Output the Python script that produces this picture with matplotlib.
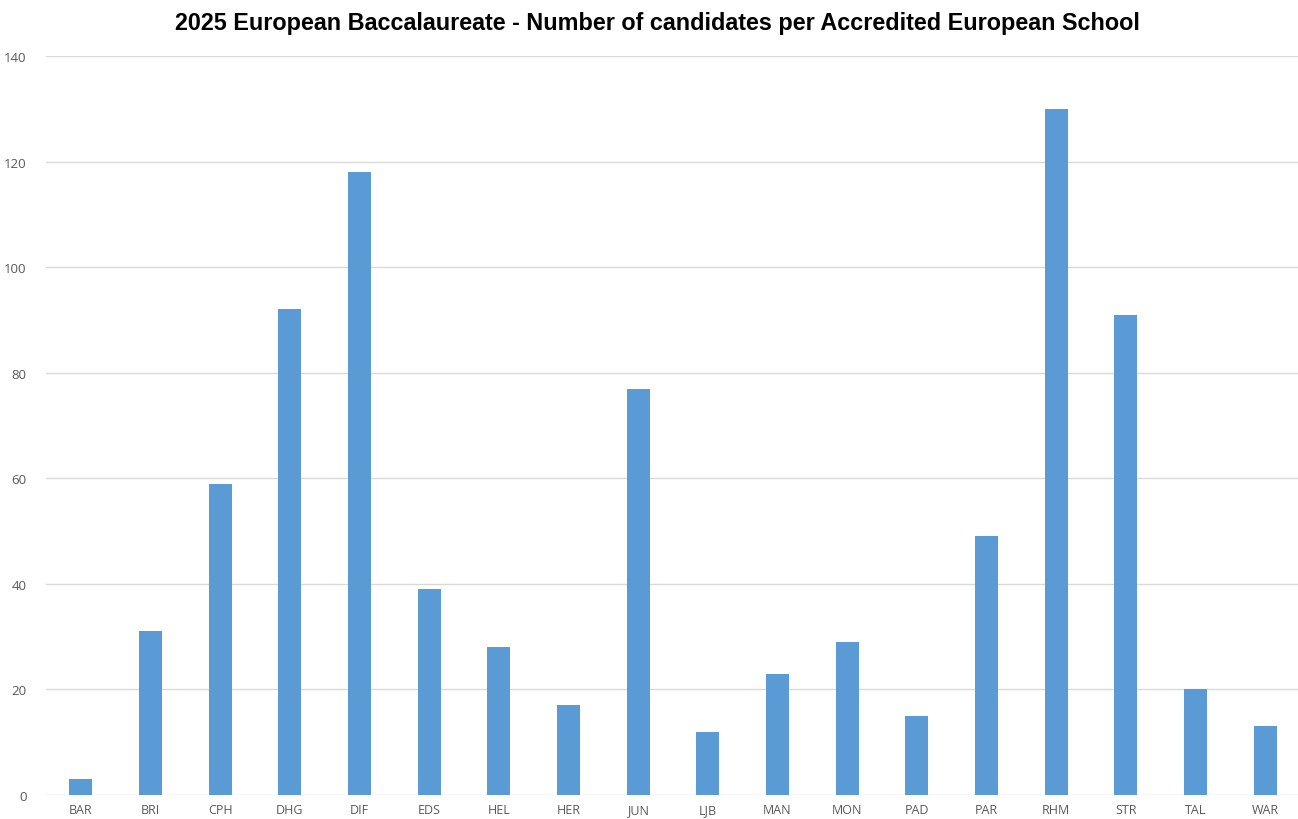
import matplotlib
matplotlib.use("Agg")
import matplotlib.pyplot as plt

schools = ["BAR", "BRI", "CPH", "DHG", "DIF", "EDS", "HEL", "HER", "JUN",
           "LJB", "MAN", "MON", "PAD", "PAR", "RHM", "STR", "TAL", "WAR"]
candidates = [3, 31, 59, 92, 118, 39, 28, 17, 77, 12, 23, 29, 15, 49, 130, 91, 20, 13]
y_ticks = [0, 20, 40, 60, 80, 100, 120, 140]
title = "2025 European Baccalaureate - Number of candidates per Accredited European School"

W, H = 1298, 820
fig = plt.figure(figsize=(W / 100, H / 100), dpi=100)
fig.patch.set_facecolor("white")
ax = fig.add_axes([46 / W, 24 / H, 1254 / W, (796 - 57) / H])

x = list(range(len(schools)))
ax.bar(x, candidates, width=0.33, color="#5B9BD5", zorder=3)
ax.set_xlim(-0.5, len(schools) - 0.5)
ax.set_ylim(0, 140)
ax.set_yticks(y_ticks)
ax.set_xticks(x)
ax.set_xticklabels(schools)
ax.grid(axis="y", color="#D9D9D9", linewidth=1, zorder=0)
for s in ax.spines.values():
    s.set_visible(False)
ax.tick_params(axis="both", length=0, labelsize=9.5, labelcolor="#595959")
ax.tick_params(axis="x", pad=6, labelsize=9)
ax.tick_params(axis="y", pad=14)
for lab in ax.get_xticklabels() + ax.get_yticklabels():
    lab.set_fontfamily("Open Sans")

fig.text(657 / W, 1 - 23.5 / H, title, ha="center", va="center",
         fontsize=16.8, fontweight="bold", family="Liberation Sans", color="black")

fig.savefig("out.png", dpi=100, facecolor="white")
